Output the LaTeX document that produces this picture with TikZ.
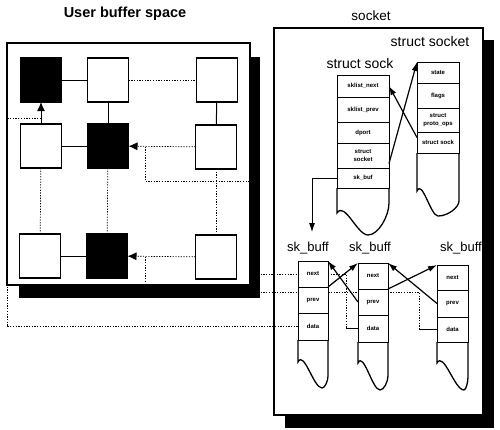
\documentclass[tikz,border=0pt]{standalone}
\usepackage{fontspec}
\setmainfont{Liberation Sans}
\usetikzlibrary{arrows.meta,calc}
\newcommand\mytail[7]{\draw[tailst] (#1,#3) -- (#1,#4) .. controls ({#1+0.25*(#5-#1)},{#4-12}) and ({#5-0.35*(#5-#1)},#6) .. (#5,#6) .. controls ({#5+0.5*(#2-#5)},#6) and (#2,{#7+0.4*(#6-#7)}) .. (#2,#7) -- (#2,#3);}
\begin{document}
\begin{tikzpicture}[x=1pt,y=-1pt,
  sq/.style={draw, line width=1.3pt, minimum width=41pt, minimum height=44pt, inner sep=0pt, outer sep=0pt},
  blk/.style={sq, fill=black},
  wht/.style={sq, fill=white},
  cell/.style={draw, line width=1pt, fill=white, inner sep=0pt, outer sep=0pt, anchor=north west,
    font=\fontsize{6}{8}\selectfont\bfseries, align=center},
  conn/.style={line width=1pt},
  dotl/.style={line width=0.7pt, dash pattern=on 1.3pt off 1.4pt},
  tip/.style={-{Latex[length=9pt,width=8pt]}},
  arr/.style={line width=1.2pt, -{Latex[length=9pt,width=6pt]}},
  thinarr/.style={line width=0.8pt, -{Latex[length=9pt,width=6pt]}},
  tailst/.style={line width=1.3pt},
  lbl/.style={font=\fontsize{14}{16}\selectfont},
  panel/.style={draw, line width=1.8pt}
]
\useasboundingbox (0,0) rectangle (500,429);

% titles
\node[font=\fontsize{14.5}{16}\selectfont\bfseries] (t1) at (125,14) {User buffer space};
\node[font=\fontsize{13.5}{16}\selectfont] (t2) at (371,16) {socket};

% panels
\draw[panel] (7,43) rectangle (250,285);
\draw[line width=1.3pt] (274,28) rectangle (483,415);

% user buffer squares
\node[blk] (b11) at (41,80) {};
\node[wht] (w12) at (108,80) {};
\node[wht] (w13) at (217,80) {};
\node[wht] (w21) at (41,146) {};
\node[blk] (b22) at (108,146) {};
\node[wht] (w23) at (216,147) {};
\node[wht] (w31) at (40,256) {};
\node[blk] (b32) at (107,256) {};
\node[wht] (w33) at (216,257) {};

\draw[conn] (b11) -- (w12);
\draw[dotl] (w12) -- (w13);
\draw[conn] (w12) -- (b22);
\draw[conn] (w13) -- (w23);
\draw[conn,tip] (w21) -- (b11);
\draw[conn] (w21) -- (b22);
\draw[dotl,tip] (w23) -- (b22);
\draw[dotl] (w21) -- (w31);
\draw[dotl] (b22) -- (b32);
\draw[dotl] (w23) -- (w33);
\draw[conn] (w31) -- (b32);
\draw[dotl,tip] (w33) -- (b32);

% labels
\node[lbl] (lsocket) at (430,41) {struct socket};
\node[lbl] (lsock) at (360,63) {struct sock};
\node[font=\fontsize{13}{15}\selectfont] (lb1) at (308,248) {sk\_buff};
\node[font=\fontsize{13}{15}\selectfont] (lb2) at (370,248) {sk\_buff};
\node[font=\fontsize{13}{15}\selectfont] (lb3) at (461,248) {sk\_buff};

% junction coordinates
\coordinate (j1) at (41,118);
\coordinate (j2) at (145,146.5);
\coordinate (j3) at (145,256.5);
\coordinate (c1a) at (7,118);
\coordinate (c2a) at (255,181);
\coordinate (c2b) at (346,274);
\coordinate (c2c) at (346,328.5);
\coordinate (c3a) at (419,292);
\coordinate (c3c) at (419,329.5);
\coordinate (e1) at (312,232);

% dotted mapping lines (behind cells)
\draw[dotl] (j1) -- (c1a) |- (298,326.5);
\draw[dotl] (j2) |- (c2a) |- (c2b) -- (c2c);
\draw[dotl] (j3) |- (c3a) -- (c3c);

% struct sock
\node[cell, minimum width=52pt, minimum height=22pt] (ssnext) at (337,75) {sklist\_next};
\node[cell, minimum width=52pt, minimum height=25pt] (ssprev) at (337,97) {sklist\_prev};
\node[cell, minimum width=52pt, minimum height=21pt] (ssdport) at (337,122) {dport};
\node[cell, minimum width=52pt, minimum height=25pt] (sssocket) at (337,143) {struct\\socket};
\node[cell, minimum width=52pt, minimum height=20pt] (ssbuf) at (337,168) {sk\_buf};
\mytail{337}{389}{188}{213}{368}{235}{203}

% struct socket
\node[cell, minimum width=42pt, minimum height=21pt] (skstate) at (417,62) {state};
\node[cell, minimum width=42pt, minimum height=25pt] (skflags) at (417,83) {flags};
\node[cell, minimum width=42pt, minimum height=24pt] (skops) at (417,108) {struct\\proto\_ops};
\node[cell, minimum width=42pt, minimum height=21pt] (sksock) at (417,132) {struct sock};
\mytail{417}{459}{153}{191}{438}{216}{201}

% sk_buffs
\node[cell, minimum width=30pt, minimum height=26pt] (b1n) at (298,261) {next};
\node[cell, minimum width=30pt, minimum height=26pt] (b1p) at (298,287) {prev};
\node[cell, minimum width=30pt, minimum height=27pt] (b1d) at (298,313) {data};
\mytail{298}{328}{340}{362}{322}{388}{376}
\node[cell, minimum width=30pt, minimum height=26pt] (b2n) at (358,263) {next};
\node[cell, minimum width=30pt, minimum height=26pt] (b2p) at (358,289) {prev};
\node[cell, minimum width=30pt, minimum height=27pt] (b2d) at (358,315) {data};
\mytail{358}{388}{342}{363}{380}{390}{376}
\node[cell, minimum width=31pt, minimum height=25pt] (b3n) at (437,265) {next};
\node[cell, minimum width=31pt, minimum height=27pt] (b3p) at (437,290) {prev};
\node[cell, minimum width=31pt, minimum height=25pt] (b3d) at (437,317) {data};
\mytail{437}{468}{342}{363}{464}{390}{377}

% short solid ends of mapping lines
\draw[conn] (c2c) -- (b2d.west);
\draw[conn] (c3c) -- (b3d.west);

% pointers
\draw[arr] ($(sssocket.east)+(0,8)$) -- (skstate.north west);
\draw[arr] ($(sksock.west)+(0,-5)$) -- (ssnext.east);
\draw[thinarr] (ssbuf.west) -| (e1);
\draw[arr] (b1n.south east) -- (b2n.north west);
\draw[arr] (b2p.west) -- (b1n.north east);
\draw[arr] (b2n.south east) -- (b3n.north west);
\draw[arr] (b3p.west) -- (b2n.north east);

% shadows
\fill[black] (251,57) rectangle (260,298);
\fill[black] (19,286) rectangle (260,298);
\fill[black] (484,40) rectangle (494,428);
\fill[black] (285,416) rectangle (494,428);
\end{tikzpicture}
\end{document}
